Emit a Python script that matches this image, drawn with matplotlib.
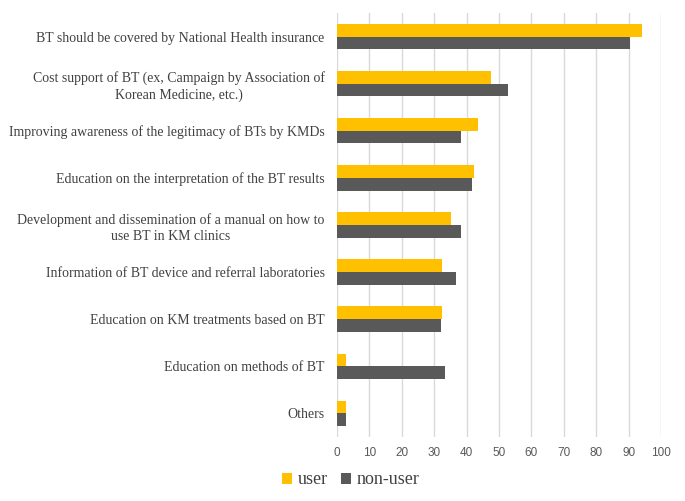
import matplotlib.pyplot as plt
import numpy as np

categories = [
    "BT should be covered by National Health insurance",
    "Cost support of BT (ex, Campaign by Association of\nKorean Medicine, etc.)",
    "Improving awareness of the legitimacy of BTs by KMDs",
    "Education on the interpretation of the BT results",
    "Development and dissemination of a manual on how to\nuse BT in KM clinics",
    "Information of BT device and referral laboratories",
    "Education on KM treatments based on BT",
    "Education on methods of BT",
    "Others",
]
user = [94.0, 47.4, 43.6, 42.4, 35.3, 32.5, 32.5, 2.8, 2.8]
non_user = [90.4, 52.8, 38.3, 41.6, 38.3, 36.8, 32.1, 33.4, 2.8]
xticks = [0, 10, 20, 30, 40, 50, 60, 70, 80, 90, 100]

fig = plt.figure(figsize=(6.85, 5.01), dpi=100)
ax = fig.add_axes([0.492, 0.128, 0.473, 0.846])

y = np.arange(len(categories))
h = 0.27
ax.barh(y - h / 2, user, height=h, color="#FFC000", label="user", zorder=3)
ax.barh(y + h / 2, non_user, height=h, color="#595959", label="non-user", zorder=3)

ax.set_ylim(len(categories) - 0.5, -0.5)
ax.set_xlim(0, 100)
ax.set_xticks(xticks)
ax.set_yticks(y)
ax.set_yticklabels(categories, family="Liberation Serif", fontsize=10,
                   color="#404040", multialignment="center", linespacing=1.3)
for lab in ax.get_xticklabels():
    lab.set_family("Liberation Sans")
ax.tick_params(axis="x", labelsize=8.5, colors="#595959", length=0, pad=7)
ax.tick_params(axis="y", length=0, pad=9)
ax.grid(axis="x", color="#D9D9D9", linewidth=1, zorder=0)
for s in ax.spines.values():
    s.set_visible(False)

fig.legend(loc="center", bbox_to_anchor=(0.512, 0.042), ncol=2, frameon=False,
           prop={"family": "Liberation Serif", "size": 13},
           handlelength=0.55, handleheight=0.55, handletextpad=0.3,
           columnspacing=0.75, labelcolor="#404040")

fig.savefig("out.png", dpi=100)
